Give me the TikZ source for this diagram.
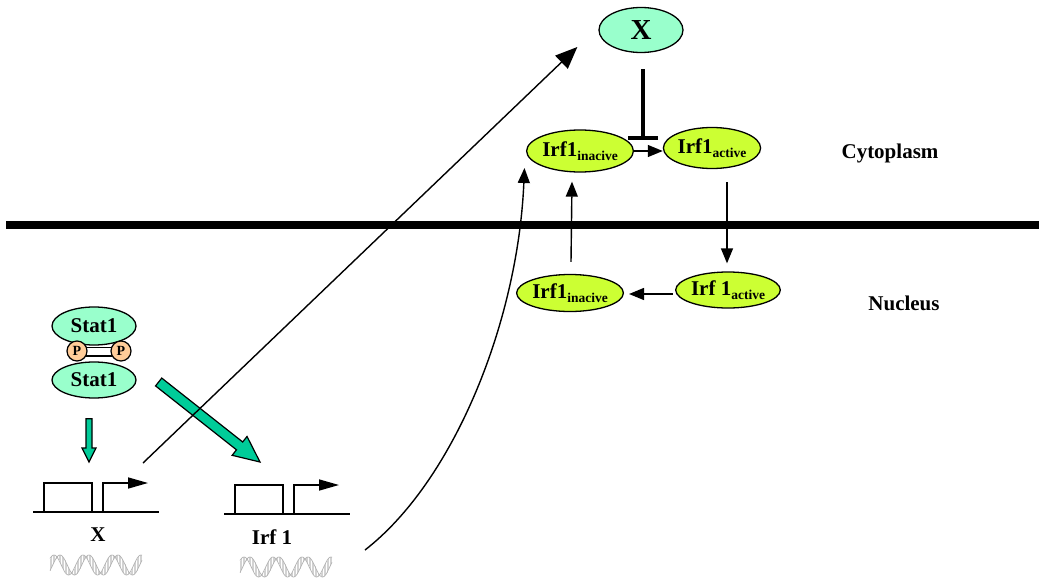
\documentclass[tikz,border=0pt]{standalone}
\usepackage{fontspec}
\setmainfont{Liberation Serif}
\usetikzlibrary{arrows.meta,calc,shapes.geometric}

\definecolor{mint}{HTML}{99FFCC}
\definecolor{lime}{HTML}{CCFF33}
\definecolor{peach}{HTML}{FFCC99}
\definecolor{statgreen}{HTML}{00CC99}

% lowered small text for the state subscripts
\newcommand{\lowtext}[1]{\raisebox{-4.5pt}{\fontsize{13.5}{13.5}\selectfont #1}}

% filled block arrow: #1 start, #2 tip, #3 shaft half width, #4 head half width, #5 head length
\newcommand{\greenarrow}[5]{%
  \coordinate (ga-h) at ($(#2)!#5!(#1)$);
  \filldraw[blockarrow]
    ($(#1)!#3!90:(#2)$) -- ($(ga-h)!#3!90:(#2)$) -- ($(ga-h)!#4!90:(#2)$) -- (#2)
    -- ($(ga-h)!#4!-90:(#2)$) -- ($(ga-h)!#3!-90:(#2)$) -- ($(#1)!#3!-90:(#2)$) -- cycle;}

\begin{document}
\begin{tikzpicture}[x=1pt, y=-1pt,
  font=\fontsize{21}{25}\selectfont\bfseries,
  protein/.style={ellipse, draw, line width=1.3pt, inner sep=0pt},
  irf/.style={protein, fill=lime, minimum width=96pt, minimum height=38pt},
  stat/.style={protein, fill=mint, minimum width=84pt, minimum height=37pt},
  phos/.style={circle, draw, line width=1.2pt, fill=peach, minimum size=20pt, inner sep=0pt,
    font=\fontsize{14}{14}\selectfont\bfseries},
  conn/.style={line width=1.4pt, -{Triangle[length=15pt,width=12pt]}},
  longconn/.style={line width=1.4pt, -{Triangle[length=22pt,width=18pt]}},
  inhibit/.style={line width=4pt, -{Bar[width=30pt]}},
  blockarrow/.style={fill=statgreen, draw=black, line width=1.2pt, line join=miter},
  genecassette/.pic={
    \draw[line width=1.4pt] (0,0) -- (126,0);
    \draw[line width=1.6pt] (11,0) rectangle (59,-29);
    \draw[line width=1.6pt, -{Triangle[length=20pt,width=11pt]}] (70,0) -- (70,-29) -- (115,-29);
  },
  dnahelix/.pic={
    \foreach \k in {0,...,61}{
      \pgfmathsetmacro{\hx}{1.5*\k}
      \pgfmathsetmacro{\ya}{-10*cos(12.414*(\hx-4))}
      \pgfmathsetmacro{\yb}{-10*cos(12.414*(\hx-10))}
      \draw[gray!35, line width=0.5pt] (\hx,\ya) -- (\hx,\yb);
    }
    \draw[gray!60, line width=0.7pt, variable=\u, domain=0:92, samples=93]
      plot (\u,{-10*cos(12.414*(\u-4))});
    \draw[gray!60, line width=0.7pt, variable=\u, domain=0:92, samples=93]
      plot (\u,{-10*cos(12.414*(\u-10))});
  }]

\useasboundingbox (0,0) rectangle (1039,578);
\fill[white] (0,0) rectangle (1039,578);

% nuclear envelope
\draw[line width=7.5pt] (6,225) -- (1039,225);

% compartment labels
\node (cyto) at (890,153) {Cytoplasm};
\node (nuc) at (904,303) {Nucleus};

% proteins
\node[protein, fill=mint, minimum width=84pt, minimum height=45pt,
  font=\fontsize{29}{32}\selectfont\bfseries] (X) at (641,30) {X};
\node[irf, minimum width=95pt, minimum height=42pt] (ti) at (580,151) {Irf1\lowtext{inacive}};
\node[irf, minimum width=97pt, minimum height=41pt] (ta) at (712,148) {Irf1\lowtext{active}};
\node[irf, minimum height=37pt] (ni) at (570,293) {Irf1\lowtext{inacive}};
\node[irf, minimum height=36pt] (na) at (728,290) {Irf 1\lowtext{active}};

% phosphorylated Stat1 dimer
\node[stat, minimum height=38pt] (st) at (94,326) {Stat1};
\node[stat, minimum height=36pt] (sb) at (94,380) {Stat1};
\draw[line width=1.1pt, fill=white] (86,347.5) rectangle (112,356);
\node[phos] (pl) at (77,351) {P};
\node[phos] (pr) at (121,351) {P};

% gene cassettes
\coordinate (xgene) at (33,512);
\coordinate (irfgene) at (224,514);
\pic at (xgene) {genecassette};
\pic at (irfgene) {genecassette};
\node (xlabel) at (98,535) {X};
\node (irflabel) at (272,537) {Irf 1};
\pic at (50,565) {dnahelix};
\pic at (240,567) {dnahelix};

% connector end points at the genes
\coordinate (xin) at (89,462);
\coordinate (xout) at (143,463);
\coordinate (irfin) at (260,462);
\coordinate (irfout) at (365,550);

% Stat1 drives transcription of both genes
\greenarrow{$(sb.south)+(-5,20)$}{xin}{3pt}{7pt}{14pt}
\greenarrow{$(sb.east)+(22,2)$}{irfin}{5pt}{12pt}{26pt}

% products leaving the nucleus
\draw[longconn] (xout) -- ($(X.west)+(-21,17)$);
\draw[conn] (irfout) .. controls (455,480) and (518,320) .. ($(ti.west)+(-1.5,17)$);

% Irf1 cycle
\draw[inhibit] ($(X.south)+(2,16)$) -- ($(X.south)+(2,87)$);
\draw[conn] (ti.east) -- (ti.east -| ta.west);
\draw[conn] ($(ta.south)+(15,13)$) -- ($(na.north)+(-1,-8)$);
\draw[conn] ($(na.west)+(-2,4)$) -- ($(ni.east)+(5,1)$);
\draw[conn] ($(ni.north)+(1,-12)$) -- ($(ti.south)+(-8,9)$);

\end{tikzpicture}
\end{document}
